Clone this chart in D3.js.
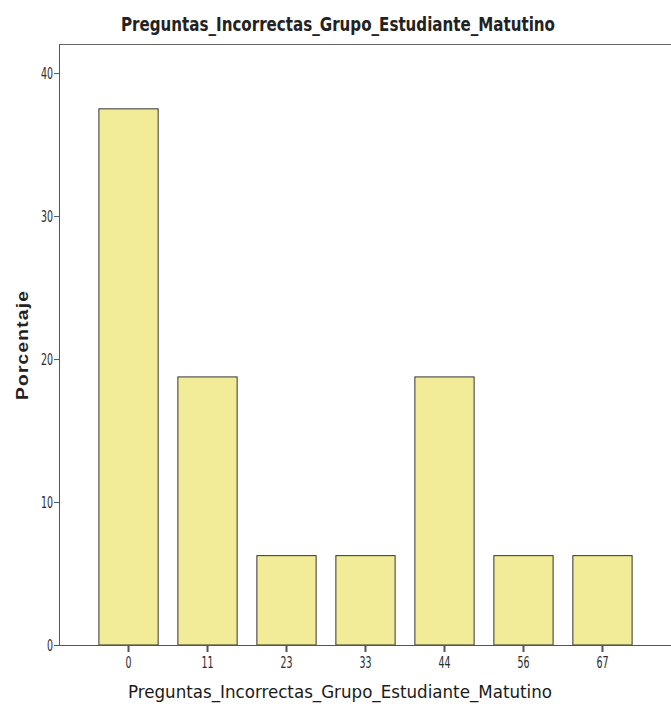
<!DOCTYPE html>
<html>
<head>
<meta charset="utf-8">
<script src="https://d3js.org/d3.v7.min.js"></script>
<style>
    body { margin: 0; background: #ffffff; }
    svg { display: block; }
    .narrow { font-family: "Liberation Sans Narrow", "Arial Narrow", "DejaVu Sans Condensed", sans-serif; }
    .axis path, .axis line { stroke: #555555; }
</style>
</head>
<body>
<div id="chart"></div>
<script>

// Chart values
let categories = ["0", "11", "23", "33", "44", "56", "67"];
let percentages = [37.5, 18.75, 6.25, 6.25, 18.75, 6.25, 6.25];
let yTicks = [0, 10, 20, 30, 40];

let chartTitle = "Preguntas_Incorrectas_Grupo_Estudiante_Matutino";
let xTitle = "Preguntas_Incorrectas_Grupo_Estudiante_Matutino";
let yTitle = "Porcentaje";

let width = 671, height = 711;
let plot = { left: 59, right: 672, top: 44.5, bottom: 645 };

let svg = d3.select("#chart")
    .append("svg")
    .attr("width", width)
    .attr("height", height);

// Scales
let x = d3.scaleBand()
    .domain(categories)
    .range([plot.left, plot.right])
    .paddingInner(0.25)
    .paddingOuter(0.505);

let y = d3.scaleLinear()
    .domain([0, 42])
    .range([plot.bottom, plot.top]);

// Top frame line
svg.append("line")
    .attr("x1", plot.left).attr("x2", width)
    .attr("y1", plot.top).attr("y2", plot.top)
    .attr("stroke", "#666666")
    .attr("stroke-width", 1);

// Bars
svg.append("g")
    .selectAll("rect")
    .data(percentages)
    .enter()
    .append("rect")
    .attr("x", (d, i) => x(categories[i]))
    .attr("y", d => y(d))
    .attr("width", x.bandwidth())
    .attr("height", d => y(0) - y(d))
    .attr("fill", "#f2ec98")
    .attr("stroke", "#333333")
    .attr("stroke-width", 1);

// Squeeze tick labels to the tall narrow digits of the original
function narrowDigits(sel) {
    sel.attr("fill", "#2a2a2a")
        .style("font-size", "16px")
        .attr("textLength", function () { return 6 * this.textContent.length; })
        .attr("lengthAdjust", "spacingAndGlyphs");
}

// Y axis
let yAxis = svg.append("g")
    .attr("class", "axis narrow")
    .attr("transform", "translate(" + plot.left + ",0)")
    .call(d3.axisLeft(y)
        .tickValues(yTicks)
        .tickSize(5)
        .tickPadding(1)
        .tickSizeOuter(0));
yAxis.select(".domain").attr("d", "M0.5," + plot.top + "V" + plot.bottom);
yAxis.selectAll("text").call(narrowDigits);

// X axis
let xAxis = svg.append("g")
    .attr("class", "axis narrow")
    .attr("transform", "translate(0," + plot.bottom + ")")
    .call(d3.axisBottom(x)
        .tickSize(7)
        .tickPadding(5)
        .tickSizeOuter(0));
xAxis.select(".domain").attr("d", "M" + plot.left + ",0.5H" + width);
xAxis.selectAll(".tick line").attr("stroke-width", 2);
xAxis.selectAll("text").call(narrowDigits);

// Title
svg.append("text")
    .attr("class", "narrow")
    .attr("x", 338)
    .attr("y", 31)
    .attr("text-anchor", "middle")
    .attr("textLength", 434)
    .attr("lengthAdjust", "spacingAndGlyphs")
    .attr("fill", "#222222")
    .style("font-size", "19px")
    .style("font-weight", "bold")
    .text(chartTitle);

// X axis title
svg.append("text")
    .attr("class", "narrow")
    .attr("x", 340)
    .attr("y", 698)
    .attr("text-anchor", "middle")
    .attr("textLength", 424)
    .attr("lengthAdjust", "spacingAndGlyphs")
    .attr("fill", "#1a1a1a")
    .style("font-size", "18px")
    .text(xTitle);

// Y axis title
svg.append("text")
    .attr("transform", "translate(28,345) rotate(-90)")
    .attr("text-anchor", "middle")
    .attr("textLength", 110)
    .attr("lengthAdjust", "spacingAndGlyphs")
    .attr("fill", "#222222")
    .style("font-family", "'Liberation Sans', Arial, sans-serif")
    .style("font-size", "16px")
    .style("font-weight", "bold")
    .style("letter-spacing", "1px")
    .text(yTitle);

</script>
</body>
</html>
